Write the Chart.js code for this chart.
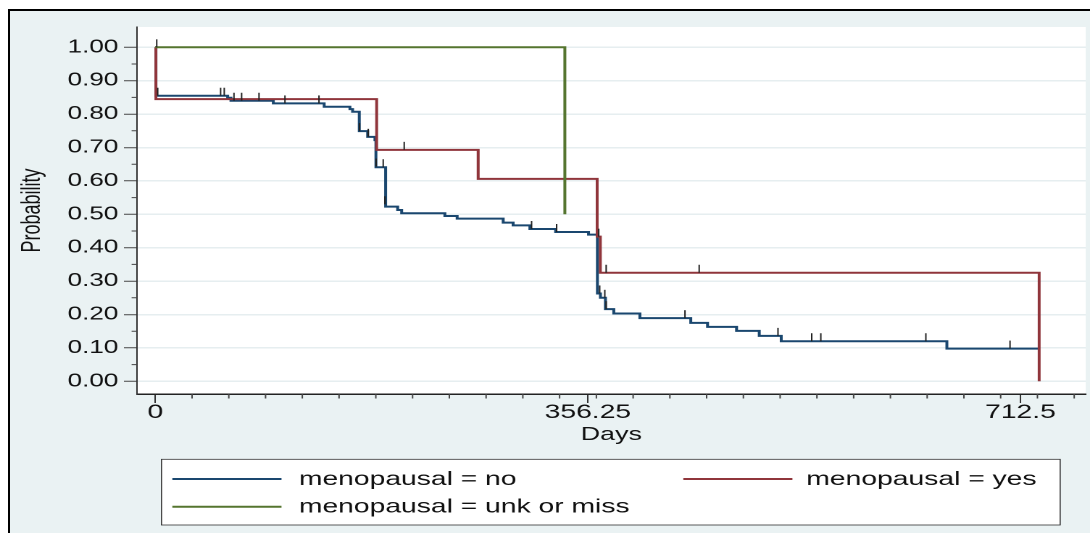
<!DOCTYPE html>
<html>
<head>
<meta charset="utf-8">
<title>Kaplan-Meier - menopausal</title>
<script src="https://cdn.jsdelivr.net/npm/chart.js@4.4.1/dist/chart.umd.min.js"></script>
<style>
  html, body { margin: 0; padding: 0; background: #fff; overflow: hidden; }
  #moldura {
    position: absolute; left: 8px; top: 9px; width: 1082px; height: 524px;
    box-sizing: border-box; border-left: 2px solid #000; border-top: 2px solid #000;
    background: #eaf2f3;
  }
  #grafico { position: absolute; left: 0; top: 0; }
</style>
</head>
<body>
<div id="moldura"></div>
<!-- the original graph is stretched sideways, so the canvas is too -->
<canvas id="grafico" width="752" height="533" style="width:1090px;height:533px"></canvas>
<script>
// menopausal = no
const noTimes = [0, 0.5, 59.6, 62.3, 97.2, 139.1, 160.3, 162.5, 168.0, 174.9,
  180.9, 181.7, 189.7, 199.6, 202.9, 238.5, 248.6, 286.5, 294.7, 308.5,
  329.7, 356.8, 364.1, 366.6, 370.7, 377.6, 399.1, 441.0, 454.8, 478.7,
  497.4, 515.5, 651.9, 727.1]
const noSurv = [1.0, 0.855, 0.849, 0.840, 0.832, 0.822, 0.815, 0.807, 0.749, 0.732,
  0.722, 0.641, 0.523, 0.513, 0.503, 0.495, 0.487, 0.475, 0.467, 0.456,
  0.447, 0.439, 0.263, 0.250, 0.216, 0.203, 0.189, 0.175, 0.163, 0.151,
  0.136, 0.120, 0.098, 0.098]
const noCensTimes = [2.0, 53.8, 56.8, 64.8, 71.1, 85.4, 106.8, 134.8, 168.2, 175.4,
  181.9, 187.7, 189.1, 309.9, 330.5, 366.0, 370.2, 371.3, 436.2, 512.8,
  540.6, 548.1, 634.6, 703.9]
const noCensSurv = [0.855, 0.855, 0.855, 0.840, 0.840, 0.840, 0.832, 0.832, 0.749, 0.732,
  0.643, 0.641, 0.530, 0.456, 0.447, 0.263, 0.250, 0.216, 0.189, 0.136,
  0.120, 0.120, 0.120, 0.098]

// menopausal = yes
const yesTimes = [0, 0.5, 182.3, 265.9, 363.9, 366.5, 727.9]
const yesSurv = [1.0, 0.845, 0.693, 0.606, 0.433, 0.325, 0.0]
const yesCensTimes = [205.0, 365.2, 371.3, 447.9]
const yesCensSurv = [0.693, 0.433, 0.325, 0.325]

// menopausal = unk or miss
const unkTimes = [0, 337.3]
const unkSurv = [1.0, 0.5]
const unkCensTimes = [1.2]
const unkCensSurv = [1.0]

const groupLabels = ['menopausal = no', 'menopausal = yes', 'menopausal = unk or miss']
const groupColors = ['#1a476f', '#90353b', '#55752f']

const xTicks = [0, 356.25, 712.5]
const xMinorStep = 30.27
const yTicks = [0, 0.1, 0.2, 0.3, 0.4, 0.5, 0.6, 0.7, 0.8, 0.9, 1.0]
const yMinorTicks = [0.05, 0.15, 0.25, 0.35, 0.45, 0.55, 0.65, 0.75, 0.85, 0.95]

const FONTE = '"Liberation Sans", Arial, sans-serif'

const pontos = (xs, ys) => xs.map((t, i) => ({ x: t, y: ys[i] }))

function curva(i, xs, ys, ordem) {
  return {
    label: groupLabels[i],
    data: pontos(xs, ys),
    borderColor: groupColors[i],
    borderWidth: 2,
    stepped: 'before',
    pointRadius: 0,
    fill: false,
    order: ordem
  }
}

function censuras(xs, ys) {
  return {
    label: 'censored',
    data: pontos(xs, ys),
    showLine: false,
    pointStyle: 'dash',
    pointRotation: -90,
    pointRadius: 8,
    pointBorderColor: '#222',
    pointBorderWidth: 1,
    order: 0
  }
}

// white plot region
const fundoPlot = {
  id: 'fundoPlot',
  beforeDraw(chart) {
    const { ctx, chartArea: a } = chart
    ctx.save()
    ctx.fillStyle = '#fff'
    ctx.fillRect(a.left, a.top, a.right - a.left, a.bottom - a.top)
    ctx.restore()
  }
}

// short ticks between the labelled ones
const ticksMenores = {
  id: 'ticksMenores',
  afterDraw(chart) {
    const { ctx, scales: { x, y } } = chart
    ctx.save()
    ctx.strokeStyle = '#444'
    ctx.lineWidth = 1
    ctx.beginPath()
    yMinorTicks.forEach(v => {
      const py = y.getPixelForValue(v)
      ctx.moveTo(y.right - 3.7, py)
      ctx.lineTo(y.right, py)
    })
    for (let d = xMinorStep; d <= x.max; d += xMinorStep) {
      const px = x.getPixelForValue(d)
      ctx.moveTo(px, x.top)
      ctx.lineTo(px, x.top + 4.5)
    }
    ctx.stroke()
    ctx.restore()
  }
}

// Stata-like legend box, two columns
const legenda = {
  id: 'legenda',
  afterDraw(chart) {
    const ctx = chart.ctx
    const itens = [
      { i: 0, lx: 118.9, tx: 206.2, y: 479 },
      { i: 1, lx: 471.4, tx: 556.3, y: 479 },
      { i: 2, lx: 118.9, tx: 206.2, y: 506.7 }
    ]
    ctx.save()
    ctx.fillStyle = '#fff'
    ctx.fillRect(111.4, 459.3, 620, 65.7)
    ctx.strokeStyle = '#333'
    ctx.lineWidth = 0.8
    ctx.strokeRect(111.4, 459.3, 620, 65.7)
    ctx.font = '19.5px ' + FONTE
    ctx.textBaseline = 'middle'
    ctx.textAlign = 'left'
    itens.forEach(it => {
      const ds = chart.data.datasets[it.i]
      ctx.strokeStyle = ds.borderColor
      ctx.lineWidth = 2
      ctx.beginPath()
      ctx.moveTo(it.lx, it.y)
      ctx.lineTo(it.lx + 75.3, it.y)
      ctx.stroke()
      ctx.fillStyle = '#111'
      ctx.fillText(ds.label, it.tx, it.y + 0.5)
    })
    ctx.restore()
  }
}

new Chart(document.getElementById('grafico'), {
  type: 'line',
  data: {
    datasets: [
      curva(0, noTimes, noSurv, 3),
      curva(1, yesTimes, yesSurv, 2),
      curva(2, unkTimes, unkSurv, 1),
      censuras(noCensTimes, noCensSurv),
      censuras(yesCensTimes, yesCensSurv),
      censuras(unkCensTimes, unkCensSurv)
    ]
  },
  options: {
    responsive: false,
    devicePixelRatio: 2,
    animation: false,
    layout: { autoPadding: false, padding: { top: 27, left: 0, right: 3, bottom: 89 } },
    plugins: {
      legend: { display: false },
      tooltip: { enabled: false }
    },
    scales: {
      x: {
        type: 'linear',
        min: -15.07,
        max: 766.2,
        afterBuildTicks: s => { s.ticks = xTicks.map(v => ({ value: v })) },
        afterFit: s => { s.height = 50 },
        ticks: {
          autoSkip: false,
          maxRotation: 0,
          padding: 0,
          color: '#111',
          font: { family: FONTE, size: 19.5, lineHeight: 1 },
          callback: v => String(v)
        },
        grid: { display: true, drawOnChartArea: false, tickLength: 9, tickColor: '#333', tickWidth: 1 },
        border: { display: true, color: '#222', width: 1.5 },
        title: {
          display: true,
          text: 'Days',
          color: '#111',
          padding: { top: 0, bottom: 0 },
          font: { family: FONTE, size: 18.5, lineHeight: 1 }
        }
      },
      y: {
        min: -0.038,
        max: 1.0608,
        afterBuildTicks: s => { s.ticks = yTicks.map(v => ({ value: v })) },
        afterFit: s => { s.width = 94.5 },
        ticks: {
          padding: 3.9,
          color: '#111',
          font: { family: FONTE, size: 18, lineHeight: 1 },
          callback: v => Number(v).toFixed(2)
        },
        grid: { color: '#e6eef0', lineWidth: 1.5, tickLength: 9, tickColor: '#444', tickWidth: 1 },
        border: { display: true, color: '#333', width: 1 },
        title: {
          display: true,
          text: 'Probability',
          color: '#111',
          padding: { top: 13.5, bottom: 0 },
          font: { family: FONTE, size: 18, lineHeight: 1 }
        }
      }
    }
  },
  plugins: [fundoPlot, ticksMenores, legenda]
})
</script>
</body>
</html>
